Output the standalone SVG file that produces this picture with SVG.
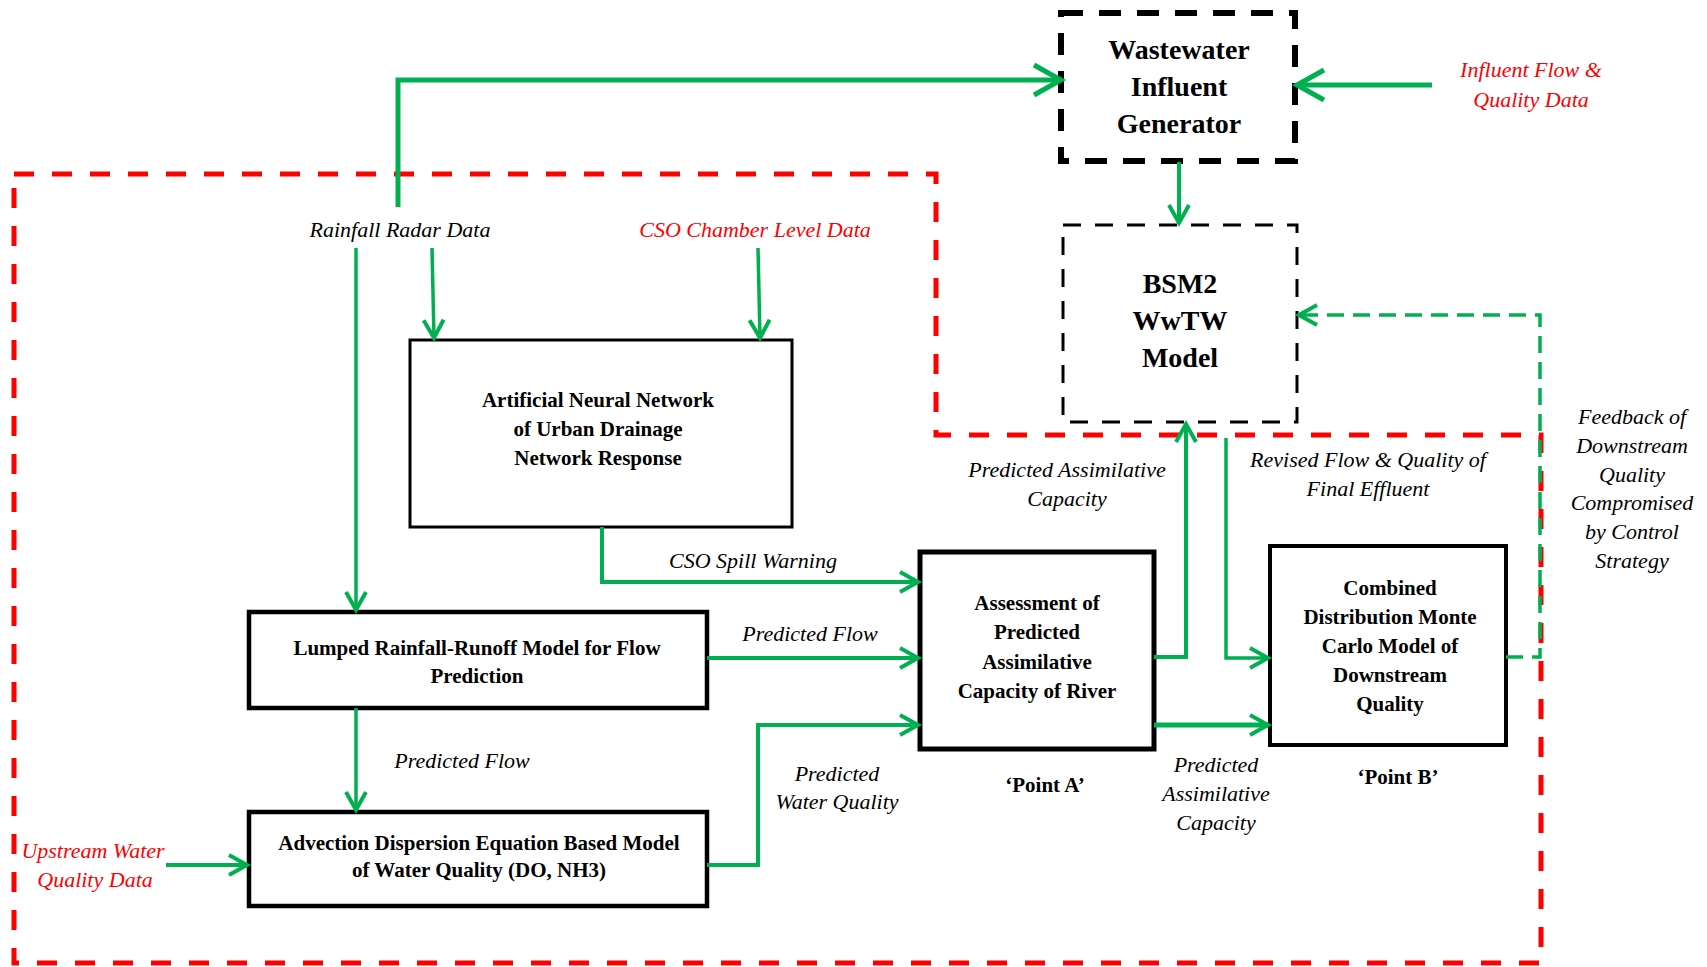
<svg xmlns="http://www.w3.org/2000/svg" width="1707" height="967" viewBox="0 0 1707 967">
<style>
.lbl{font-family:"Liberation Serif","Times New Roman",serif;font-style:italic;font-size:22px;fill:#000;text-anchor:middle}
.red{fill:#FF0000}
.bt{font-family:"Liberation Serif","Times New Roman",serif;font-weight:bold;font-size:21px;fill:#000;text-anchor:middle}
.big{font-size:28px}
.box{fill:#fff;stroke:#000}
.c{fill:none;stroke:#00B050;stroke-width:4}
.thin{stroke-width:3.5}
.thick{stroke-width:5}
</style>
<defs>
<marker id="ah" viewBox="0 0 22 22" markerUnits="userSpaceOnUse" markerWidth="22" markerHeight="22" refX="20" refY="11" orient="auto" overflow="visible">
<path d="M2,1 L20,11 L2,21" fill="none" stroke="#00B050" stroke-width="4"/>
</marker>
<marker id="ahb" viewBox="0 0 32 32" markerUnits="userSpaceOnUse" markerWidth="32" markerHeight="32" refX="29" refY="16" orient="auto" overflow="visible">
<path d="M2,1 L29,16 L2,31" fill="none" stroke="#00B050" stroke-width="5"/>
</marker>
</defs>
<rect width="1707" height="967" fill="#fff"/>
<path id="boundary" d="M14,174 H936 V435 H1541 V963 H14 Z" fill="none" stroke="#FF0000" stroke-width="5" stroke-dasharray="20 18"/>

<g id="wig">
<rect x="1061" y="13" width="234" height="148" fill="none" stroke="#000" stroke-width="6" stroke-dasharray="22 16"/>
<text class="bt big" x="1179" y="59">Wastewater</text>
<text class="bt big" x="1179" y="96">Influent</text>
<text class="bt big" x="1179" y="133">Generator</text>
</g>
<g id="bsm2">
<rect x="1063" y="225" width="234" height="197" fill="none" stroke="#000" stroke-width="3" stroke-dasharray="18 14"/>
<text class="bt big" x="1180" y="293">BSM2</text>
<text class="bt big" x="1180" y="330">WwTW</text>
<text class="bt big" x="1180" y="367">Model</text>
</g>
<g id="ann">
<rect class="box" x="410" y="340" width="382" height="187" stroke-width="3"/>
<text class="bt" x="598" y="407">Artificial Neural Network</text>
<text class="bt" x="598" y="436">of Urban Drainage</text>
<text class="bt" x="598" y="465">Network Response</text>
</g>
<g id="lumped">
<rect class="box" x="249" y="612" width="458" height="96" stroke-width="4.5"/>
<text class="bt" x="477" y="655">Lumped Rainfall-Runoff Model for Flow</text>
<text class="bt" x="477" y="683">Prediction</text>
</g>
<g id="advection">
<rect class="box" x="249" y="812" width="458" height="94" stroke-width="4.5"/>
<text class="bt" x="479" y="850">Advection Dispersion Equation Based Model</text>
<text class="bt" x="479" y="877">of Water Quality (DO, NH3)</text>
</g>
<g id="assessment">
<rect class="box" x="920" y="552" width="234" height="197" stroke-width="5"/>
<text class="bt" x="1037" y="610">Assessment of</text>
<text class="bt" x="1037" y="639">Predicted</text>
<text class="bt" x="1037" y="669">Assimilative</text>
<text class="bt" x="1037" y="698">Capacity of River</text>
<text class="bt" x="1045" y="792">‘Point A’</text>
</g>
<g id="combined">
<rect class="box" x="1270" y="546" width="236" height="199" stroke-width="4"/>
<text class="bt" x="1390" y="595">Combined</text>
<text class="bt" x="1390" y="624">Distribution Monte</text>
<text class="bt" x="1390" y="653">Carlo Model of</text>
<text class="bt" x="1390" y="682">Downstream</text>
<text class="bt" x="1390" y="711">Quality</text>
<text class="bt" x="1398" y="784">‘Point B’</text>
</g>

<g id="connectors">
<path class="c thick" d="M398,207 V80 H1061" marker-end="url(#ahb)"/>
<path class="c thick" d="M1432,85 H1297" marker-end="url(#ahb)"/>
<path class="c" d="M1179,162 V223" marker-end="url(#ah)"/>
<path class="c thin" d="M356,248 V610" marker-end="url(#ah)"/>
<path class="c thin" d="M432,248 L434,338" marker-end="url(#ah)"/>
<path class="c thin" d="M758,248 L760,338" marker-end="url(#ah)"/>
<path class="c" d="M602,527 V582 H918" marker-end="url(#ah)"/>
<path class="c" d="M707,658 H918" marker-end="url(#ah)"/>
<path class="c thin" d="M356,708 V810" marker-end="url(#ah)"/>
<path class="c" d="M166,865 H247" marker-end="url(#ah)"/>
<path class="c" d="M707,865 H758 V725 H918" marker-end="url(#ah)"/>
<path class="c" d="M1154,657 H1186 V424" marker-end="url(#ah)"/>
<path class="c thin" d="M1226,438 V658 H1268" marker-end="url(#ah)"/>
<path class="c thick" d="M1154,725 H1268" marker-end="url(#ah)"/>
<path class="c thin" d="M1506,657 H1540 V315 H1299" stroke-dasharray="17 9" marker-end="url(#ah)"/>
</g>

<g id="labels">
<text class="lbl" x="400" y="237">Rainfall Radar Data</text>
<text class="lbl red" x="755" y="237">CSO Chamber Level Data</text>
<text class="lbl red" x="1531" y="77">Influent Flow &amp;</text>
<text class="lbl red" x="1531" y="107">Quality Data</text>
<text class="lbl" x="753" y="568">CSO Spill Warning</text>
<text class="lbl" x="810" y="641">Predicted Flow</text>
<text class="lbl" x="462" y="768">Predicted Flow</text>
<text class="lbl" x="837" y="781">Predicted</text>
<text class="lbl" x="837" y="809">Water Quality</text>
<text class="lbl red" x="93" y="858">Upstream Water</text>
<text class="lbl red" x="95" y="887">Quality Data</text>
<text class="lbl" x="1067" y="477">Predicted Assimilative</text>
<text class="lbl" x="1067" y="506">Capacity</text>
<text class="lbl" x="1368" y="467">Revised Flow &amp; Quality of</text>
<text class="lbl" x="1368" y="496">Final Effluent</text>
<text class="lbl" x="1216" y="772">Predicted</text>
<text class="lbl" x="1216" y="801">Assimilative</text>
<text class="lbl" x="1216" y="830">Capacity</text>
<text class="lbl" x="1632" y="424">Feedback of</text>
<text class="lbl" x="1632" y="453">Downstream</text>
<text class="lbl" x="1632" y="482">Quality</text>
<text class="lbl" x="1632" y="510">Compromised</text>
<text class="lbl" x="1632" y="539">by Control</text>
<text class="lbl" x="1632" y="568">Strategy</text>
</g>
</svg>
